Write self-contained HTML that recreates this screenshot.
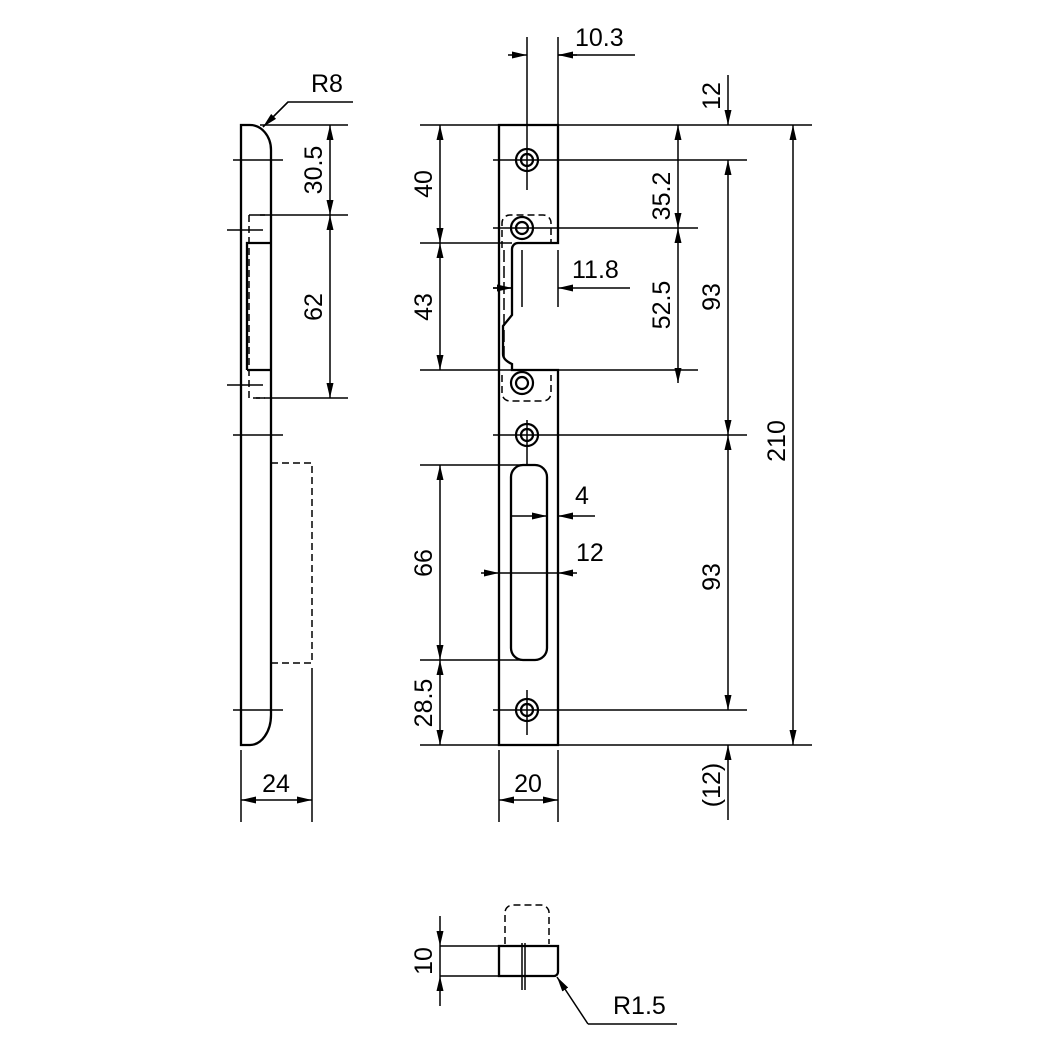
<!DOCTYPE html>
<html><head><meta charset="utf-8"><style>html,body{margin:0;padding:0;background:#fff}svg{display:block}text{font-family:"Liberation Sans",Arial,sans-serif;font-size:25px;fill:#000}</style></head><body>
<svg width="1043" height="1043" viewBox="0 0 1043 1043" xmlns="http://www.w3.org/2000/svg">
<defs>
<marker id="a" viewBox="0 0 15 7" refX="15" refY="3.5" markerWidth="15" markerHeight="7" markerUnits="userSpaceOnUse" orient="auto-start-reverse"><path d="M0,0L15,3.5L0,7z" fill="#000"/></marker>
</defs>
<g fill="none" stroke="#000" stroke-width="1.5">
<!-- LEFT VIEW -->
<path d="M241,745V125H250A21,25 0 0 1 271,150V715A21,30 0 0 1 250,745Z" stroke-width="2.3"/>
<path d="M247,370V243H271M247,370H271" stroke-width="2.3"/>
<path d="M249,215H265M249,215V398H265" stroke-dasharray="7,4"/>
<path d="M271,463H312V663H271" stroke-dasharray="7,4"/>
<path d="M233,160H283M227,230H263M227,385H263M233,435H283M233,710H283"/>
<path d="M260,125H348M256,215H348M256,398H348"/>
<path d="M330,125V215" marker-start="url(#a)" marker-end="url(#a)"/>
<path d="M330,215V398" marker-start="url(#a)" marker-end="url(#a)"/>
<path d="M241,750V822M312,668V822"/>
<path d="M241,800H312" marker-start="url(#a)" marker-end="url(#a)"/>
<path d="M263,127L288,102H353"/>
<path d="M288,102L263,127" marker-end="url(#a)"/>
<!-- FRONT VIEW -->
<path d="M499,125H558V243H518A6,6 0 0 0 512,249V315L503,326V354Q503,360 512,364V370H558V745H499Z" stroke-width="2.3"/>
<path d="M523,465H535A12,12 0 0 1 547,477V648A12,12 0 0 1 535,660H523A12,12 0 0 1 511,648V477A12,12 0 0 1 523,465Z" stroke-width="2.3"/>
<path d="M502,248V223A8,8 0 0 1 510,215H543A8,8 0 0 1 551,223V243" stroke-dasharray="7,4"/>
<path d="M504,250V360" stroke-dasharray="12,4"/>
<path d="M502,375V393A8,8 0 0 0 510,401H543A8,8 0 0 0 551,393V375" stroke-dasharray="7,4"/>
<g stroke-width="2.2">
<circle cx="527" cy="160" r="11"/><circle cx="527" cy="160" r="6"/>
<circle cx="522" cy="228" r="11"/><circle cx="522" cy="228" r="6"/>
<circle cx="522" cy="383" r="11"/><circle cx="522" cy="383" r="6"/>
<circle cx="527" cy="435" r="11"/><circle cx="527" cy="435" r="6"/>
<circle cx="527" cy="710" r="11"/><circle cx="527" cy="710" r="6"/>
</g>
<path d="M527,37V190M558,37V125M527,420V465M527,690V735M522,250V307M558,250V307"/>
<path d="M420,125H812M493,160H747M493,228H698M420,243H512M420,370H698M493,435H747M420,465H523M420,660H523M493,710H747M420,745H812M493,288H512"/>
<path d="M499,750V822M558,750V822"/>
<path d="M508,55H527" marker-end="url(#a)"/><path d="M577,55H558" marker-end="url(#a)"/><path d="M558,55H635"/>
<path d="M440,125V243" marker-start="url(#a)" marker-end="url(#a)"/>
<path d="M440,243V370" marker-start="url(#a)" marker-end="url(#a)"/>
<path d="M440,465V660" marker-start="url(#a)" marker-end="url(#a)"/>
<path d="M440,660V745" marker-start="url(#a)" marker-end="url(#a)"/>
<path d="M678,125V228" marker-start="url(#a)" marker-end="url(#a)"/>
<path d="M678,228V383" marker-start="url(#a)" marker-end="url(#a)"/>
<path d="M728,75V125" marker-end="url(#a)"/>
<path d="M728,160V435" marker-start="url(#a)" marker-end="url(#a)"/>
<path d="M728,435V710" marker-start="url(#a)" marker-end="url(#a)"/>
<path d="M728,820V745" marker-end="url(#a)"/>
<path d="M793,125V745" marker-start="url(#a)" marker-end="url(#a)"/>
<path d="M493,288H512" marker-end="url(#a)"/><path d="M630,288H558" marker-end="url(#a)"/>
<path d="M512,516H547" marker-end="url(#a)"/><path d="M595,516H558" marker-end="url(#a)"/>
<path d="M481,573H499" marker-end="url(#a)"/><path d="M577,573H558" marker-end="url(#a)"/><path d="M499,573H558"/>
<path d="M499,800H558" marker-start="url(#a)" marker-end="url(#a)"/>
<!-- BOTTOM VIEW -->
<path d="M499,946H558V972A4,4 0 0 1 554,976H499Z" stroke-width="2.3"/>
<path d="M522,943V990M525,943V990"/>
<path d="M505,944V914A8,8 0 0 1 513,905H541A8,8 0 0 1 549,914V944" stroke-dasharray="7,4"/>
<path d="M440,946H499M440,976H499"/>
<path d="M440,916V946" marker-end="url(#a)"/><path d="M440,1006V976" marker-end="url(#a)"/><path d="M440,946V976"/>
<path d="M588,1024L557,977" marker-end="url(#a)"/><path d="M588,1024H677"/>
</g>
<g>
<text x="311" y="92">R8</text>
<text transform="translate(322,170) rotate(-90)" text-anchor="middle">30.5</text>
<text transform="translate(322,307) rotate(-90)" text-anchor="middle">62</text>
<text x="276" y="792" text-anchor="middle">24</text>
<text x="575" y="46">10.3</text>
<text transform="translate(432,184) rotate(-90)" text-anchor="middle">40</text>
<text transform="translate(432,307) rotate(-90)" text-anchor="middle">43</text>
<text transform="translate(432,563) rotate(-90)" text-anchor="middle">66</text>
<text transform="translate(432,703) rotate(-90)" text-anchor="middle">28.5</text>
<text transform="translate(670,196) rotate(-90)" text-anchor="middle">35.2</text>
<text transform="translate(670,305) rotate(-90)" text-anchor="middle">52.5</text>
<text transform="translate(720,96) rotate(-90)" text-anchor="middle">12</text>
<text transform="translate(720,297) rotate(-90)" text-anchor="middle">93</text>
<text transform="translate(720,577) rotate(-90)" text-anchor="middle">93</text>
<text transform="translate(720,785) rotate(-90)" text-anchor="middle">(12)</text>
<text transform="translate(785,441) rotate(-90)" text-anchor="middle">210</text>
<text x="572" y="278">11.8</text>
<text x="575" y="504">4</text>
<text x="576" y="561">12</text>
<text x="528" y="792" text-anchor="middle">20</text>
<text transform="translate(432,961) rotate(-90)" text-anchor="middle">10</text>
<text x="613" y="1014">R1.5</text>
</g>
</svg>
</body></html>
